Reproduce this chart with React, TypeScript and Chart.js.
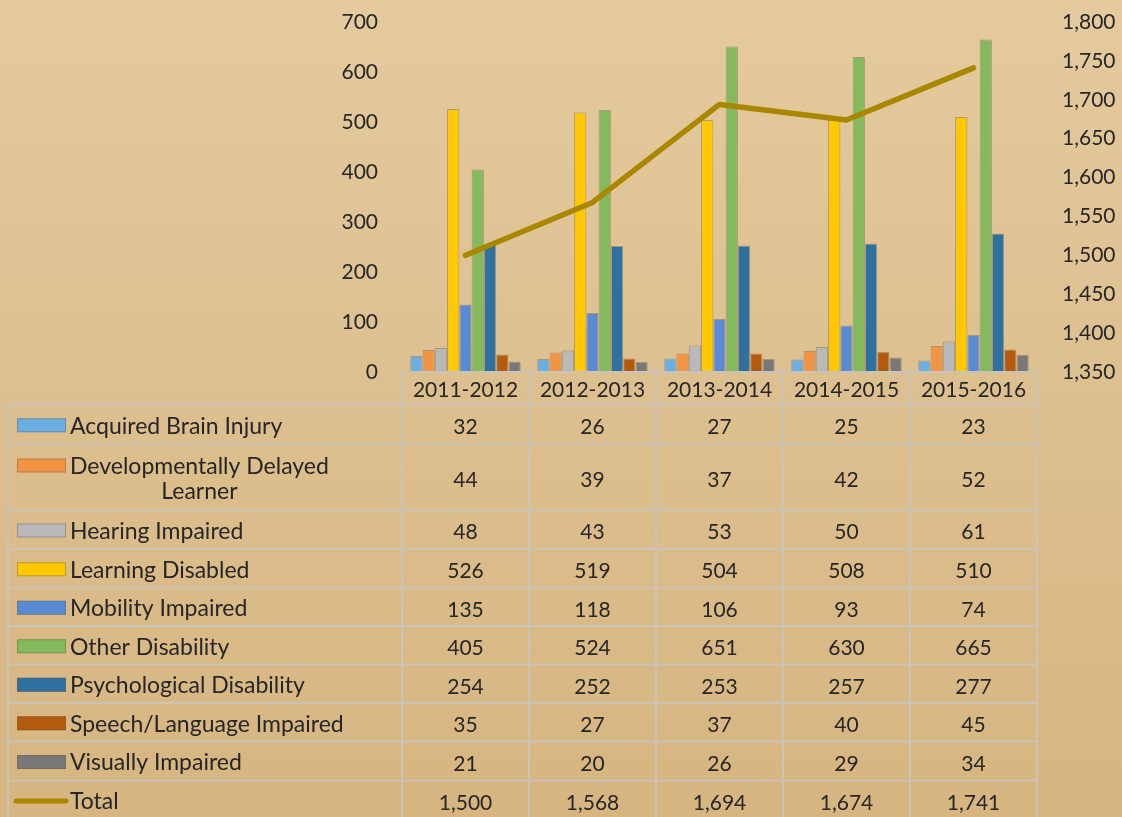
import React, { useEffect, useRef } from 'react';
import { Chart, registerables } from 'chart.js';

Chart.register(...registerables);

const categories = ['2011-2012', '2012-2013', '2013-2014', '2014-2015', '2015-2016'];

const acquiredBrainInjury = [32, 26, 27, 25, 23];
const developmentallyDelayed = [44, 39, 37, 42, 52];
const hearingImpaired = [48, 43, 53, 50, 61];
const learningDisabled = [526, 519, 504, 508, 510];
const mobilityImpaired = [135, 118, 106, 93, 74];
const otherDisability = [405, 524, 651, 630, 665];
const psychologicalDisability = [254, 252, 253, 257, 277];
const speechLanguageImpaired = [35, 27, 37, 40, 45];
const visuallyImpaired = [21, 20, 26, 29, 34];
const total = [1500, 1568, 1694, 1674, 1741];

const leftAxis = { min: 0, max: 700, step: 100 };
const rightAxis = { min: 1350, max: 1800, step: 50 };

const barSeries = [
  { label: 'Acquired Brain Injury', data: acquiredBrainInjury, color: '#6aaee2' },
  { label: 'Developmentally Delayed Learner', data: developmentallyDelayed, color: '#f29443' },
  { label: 'Hearing Impaired', data: hearingImpaired, color: '#b9b9b9' },
  { label: 'Learning Disabled', data: learningDisabled, color: '#ffc800' },
  { label: 'Mobility Impaired', data: mobilityImpaired, color: '#5a8ad3' },
  { label: 'Other Disability', data: otherDisability, color: '#84b95e' },
  { label: 'Psychological Disability', data: psychologicalDisability, color: '#2e70a0' },
  { label: 'Speech/Language Impaired', data: speechLanguageImpaired, color: '#b35a0e' },
  { label: 'Visually Impaired', data: visuallyImpaired, color: '#787878' },
];
const totalSeries = { label: 'Total', data: total, color: '#a98800' };

// layout constants
const W = 1122;
const H = 817;
const FAMILY = 'Lato, "Open Sans", sans-serif';
const FONT = '21px ' + FAMILY;
const LABEL_FONT = '23px ' + FAMILY;
const TEXT = '#262626';
const GRID = '#c9c3b8';
const rowHeights = [39.5, 66, 39, 38.5, 38.5, 38.5, 38.5, 38.5, 39, 39];
const tableLeft = 8;
const headerBottom = 404.5;

const fmt = (v: number) => v.toLocaleString('en-US');

function wrap(ctx: CanvasRenderingContext2D, text: string, maxW: number): string[] {
  const words = text.split(' ');
  const lines: string[] = [];
  let cur = '';
  for (const w of words) {
    const t = cur ? cur + ' ' + w : w;
    if (ctx.measureText(t).width > maxW && cur) {
      lines.push(cur);
      cur = w;
    } else cur = t;
  }
  if (cur) lines.push(cur);
  return lines;
}

const tablePlugin = {
  id: 'dataTable',
  afterDraw(chart: any) {
    const ctx: CanvasRenderingContext2D = chart.ctx;
    const xs = chart.scales.x;
    const area = chart.chartArea;
    const centers = categories.map((_, i) => xs.getPixelForValue(i));
    const colW = centers.length > 1 ? centers[1] - centers[0] : area.right - area.left;
    const bounds = centers.map((c) => c - colW / 2);
    bounds.push(centers[centers.length - 1] + colW / 2);
    const axisY = area.bottom;
    let y = headerBottom;
    const rowsY: number[] = [y];
    rowHeights.forEach((h) => {
      y += h;
      rowsY.push(y);
    });
    const bottom = rowsY[rowsY.length - 1];

    ctx.save();
    ctx.strokeStyle = GRID;
    ctx.lineWidth = 2;
    ctx.beginPath();
    ctx.moveTo(bounds[0], axisY);
    ctx.lineTo(bounds[bounds.length - 1], axisY);
    ctx.stroke();
    rowsY.forEach((ry) => {
      ctx.beginPath();
      ctx.moveTo(tableLeft, ry);
      ctx.lineTo(bounds[bounds.length - 1], ry);
      ctx.stroke();
    });
    bounds.forEach((bx) => {
      ctx.beginPath();
      ctx.moveTo(bx, axisY - 3);
      ctx.lineTo(bx, bottom);
      ctx.stroke();
    });
    ctx.beginPath();
    ctx.moveTo(tableLeft, headerBottom);
    ctx.lineTo(tableLeft, bottom);
    ctx.stroke();

    ctx.font = FONT;
    ctx.fillStyle = TEXT;
    ctx.textBaseline = 'middle';
    ctx.textAlign = 'center';
    categories.forEach((c, i) => {
      ctx.fillText(c, centers[i], (axisY + headerBottom) / 2 + 2);
    });

    const allRows = [...barSeries, totalSeries];
    allRows.forEach((s, r) => {
      const top = rowsY[r];
      const bot = rowsY[r + 1];
      const mid = (top + bot) / 2;
      ctx.font = FONT;
      ctx.textAlign = 'center';
      ctx.fillStyle = TEXT;
      s.data.forEach((v, i) => {
        ctx.fillText(fmt(v), centers[i], mid + 3);
      });
      ctx.font = LABEL_FONT;
      const lines = wrap(ctx, s.label, 320);
      const lh = 25;
      const widths = lines.map((l) => ctx.measureText(l).width);
      const blockW = Math.max(...widths);
      const firstY = mid - ((lines.length - 1) * lh) / 2;
      ctx.textAlign = 'left';
      lines.forEach((l, k) => {
        ctx.fillText(l, 70 + (blockW - widths[k]) / 2, firstY + k * lh + 2);
      });
      if (r < barSeries.length) {
        ctx.fillStyle = s.color;
        ctx.fillRect(17, firstY - 7 + 1, 49, 14);
        ctx.strokeStyle = 'rgba(110,100,80,0.45)';
        ctx.lineWidth = 1;
        ctx.strokeRect(17.5, firstY - 6.5 + 1, 48, 13);
      } else {
        ctx.strokeStyle = s.color;
        ctx.lineWidth = 5;
        ctx.lineCap = 'round';
        ctx.beginPath();
        ctx.moveTo(16, firstY + 1);
        ctx.lineTo(66, firstY + 1);
        ctx.stroke();
      }
    });
    ctx.restore();
  },
};

export default function App() {
  const ref = useRef<HTMLCanvasElement>(null);
  useEffect(() => {
    if (!ref.current) return;
    const tickFont = { family: FAMILY, size: 21 };
    const datasets: any[] = [
      {
        type: 'line',
        label: totalSeries.label,
        data: totalSeries.data,
        borderColor: totalSeries.color,
        backgroundColor: totalSeries.color,
        borderWidth: 5.5,
        pointRadius: 0,
        tension: 0,
        borderCapStyle: 'round',
        borderJoinStyle: 'round',
        yAxisID: 'y1',
        order: -1,
      },
      ...barSeries.map((s) => ({
        type: 'bar',
        label: s.label,
        data: s.data,
        backgroundColor: s.color,
        borderColor: 'rgba(120,105,75,0.5)',
        borderWidth: 1,
        categoryPercentage: 0.87,
        barPercentage: 1,
        yAxisID: 'y',
        order: 1,
      })),
    ];
    const chart = new Chart(ref.current, {
      type: 'bar',
      data: { labels: categories, datasets },
      options: {
        responsive: false,
        animation: false,
        layout: { padding: { top: 22, bottom: H - 372, left: 0, right: 0 } },
        plugins: { legend: { display: false }, tooltip: { enabled: false } },
        scales: {
          x: { display: false, grid: { display: false } },
          y: {
            position: 'left',
            min: leftAxis.min,
            max: leftAxis.max,
            ticks: { stepSize: leftAxis.step, font: tickFont, color: TEXT, padding: 24 },
            grid: { display: false, drawTicks: false },
            border: { display: false },
            afterFit: (s: any) => {
              s.width = 402;
              s.paddingTop = 0;
              s.paddingBottom = 0;
            },
          },
          y1: {
            position: 'right',
            min: rightAxis.min,
            max: rightAxis.max,
            ticks: { stepSize: rightAxis.step, font: tickFont, color: TEXT, padding: 25 },
            grid: { display: false, drawTicks: false },
            border: { display: false },
            afterFit: (s: any) => {
              s.width = W - 1037;
              s.paddingTop = 0;
              s.paddingBottom = 0;
            },
          },
        },
      } as any,
      plugins: [tablePlugin],
    });
    return () => chart.destroy();
  }, []);

  return (
    <div
      style={{
        position: 'fixed',
        left: 0,
        top: 0,
        width: W,
        height: H,
        background: 'linear-gradient(to bottom, #e4ca9e, #d6b580)',
      }}
    >
      <canvas ref={ref} width={W} height={H} style={{ display: 'block' }} />
    </div>
  );
}
